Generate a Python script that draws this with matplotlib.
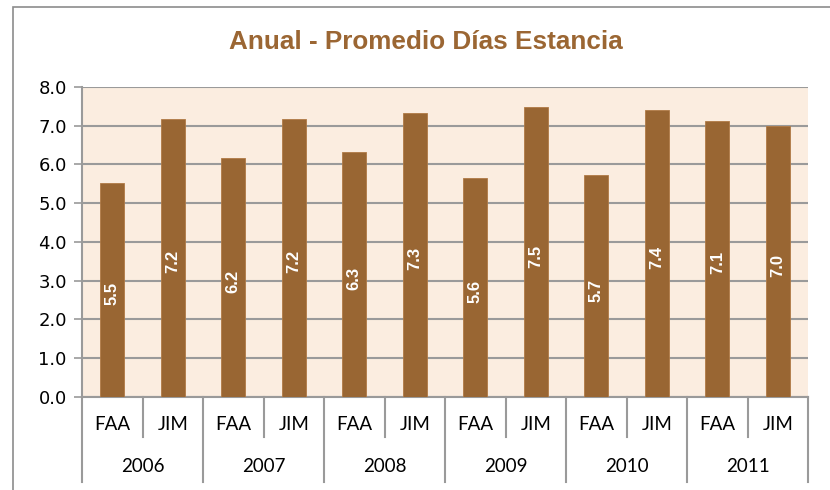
import matplotlib
matplotlib.use("Agg")
import matplotlib.pyplot as plt
from matplotlib.patches import Rectangle
from matplotlib.lines import Line2D

# data
years = ["2006", "2007", "2008", "2009", "2010", "2011"]
groups = ["FAA", "JIM"]
values = [5.52, 7.18, 6.18, 7.18, 6.33, 7.34, 5.64, 7.48, 5.72, 7.40, 7.13, 7.00]
yticks = [0.0, 1.0, 2.0, 3.0, 4.0, 5.0, 6.0, 7.0, 8.0]

bar_color = "#996633"
title_color = "#9B6633"
bg_color = "#FBEDE0"
grid_color = "#9A9A9A"

W, H = 830, 490
fig = plt.figure(figsize=(W / 100, H / 100), dpi=100)

# outer chart frame
fig.patches.append(Rectangle((13 / W, -0.05), (W - 13 + 20) / W, (H - 7) / H + 0.05,
                             transform=fig.transFigure, fill=False,
                             edgecolor="#8C8C8C", linewidth=1.2))

left, right, top, bottom = 82, 808, 87, 397
ax = fig.add_axes([left / W, 1 - bottom / H, (right - left) / W, (bottom - top) / H])
ax.set_facecolor(bg_color)

n = len(values)
xs = list(range(n))
ax.bar(xs, values, width=0.4, color=bar_color, edgecolor="#B07A45", linewidth=0.6, zorder=3)

for x, v in zip(xs, values):
    ax.text(x, v / 2 - 0.1, f"{v:.1f}", rotation=90, ha="center", va="center",
            color="white", fontsize=12, fontweight="bold",
            family=["Liberation Sans", "DejaVu Sans"], zorder=4)

ax.set_xlim(-0.5, n - 0.5)
ax.set_ylim(0, 8)
ax.set_yticks(yticks)
ax.set_yticklabels([f"{t:.1f}" for t in yticks], fontsize=13, family=["DejaVu Sans"])
ax.tick_params(axis="y", length=6, color=grid_color, width=1.2, pad=5)
ax.yaxis.grid(True, color=grid_color, linewidth=1.5, zorder=1)
ax.set_axisbelow(True)
ax.set_xticks([])
for s in ["top", "right", "bottom"]:
    ax.spines[s].set_visible(False)
ax.spines["left"].set_color(grid_color)
ax.spines["left"].set_linewidth(1.5)
ax.axhline(0, color=grid_color, linewidth=1.5, zorder=2, clip_on=False)

# two-level category axis
tr = ax.get_xaxis_transform()
ph = bottom - top
inner_y = -40 / ph
outer_y = -85 / ph
for i in range(n + 1):
    xb = i - 0.5
    y_end = outer_y if i % 2 == 0 else inner_y
    ax.add_line(Line2D([xb, xb], [0, y_end], transform=tr, color=grid_color,
                       linewidth=1.5, clip_on=False))
for i in range(n):
    ax.text(i, -28 / ph, groups[i % 2], transform=tr, ha="center", va="center",
            fontsize=13.5, family=["Lato", "DejaVu Sans"])
for j, yr in enumerate(years):
    ax.text(2 * j + 0.5, -70 / ph, yr, transform=tr, ha="center", va="center",
            fontsize=13.5, family=["Lato", "DejaVu Sans"])

fig.text(426 / W, 1 - 42 / H, "Anual - Promedio Días Estancia", ha="center", va="center",
         fontsize=18.8, fontweight="bold", color=title_color,
         family=["Liberation Sans Narrow", "Liberation Sans", "DejaVu Sans"])

fig.savefig("out.png", dpi=100)
